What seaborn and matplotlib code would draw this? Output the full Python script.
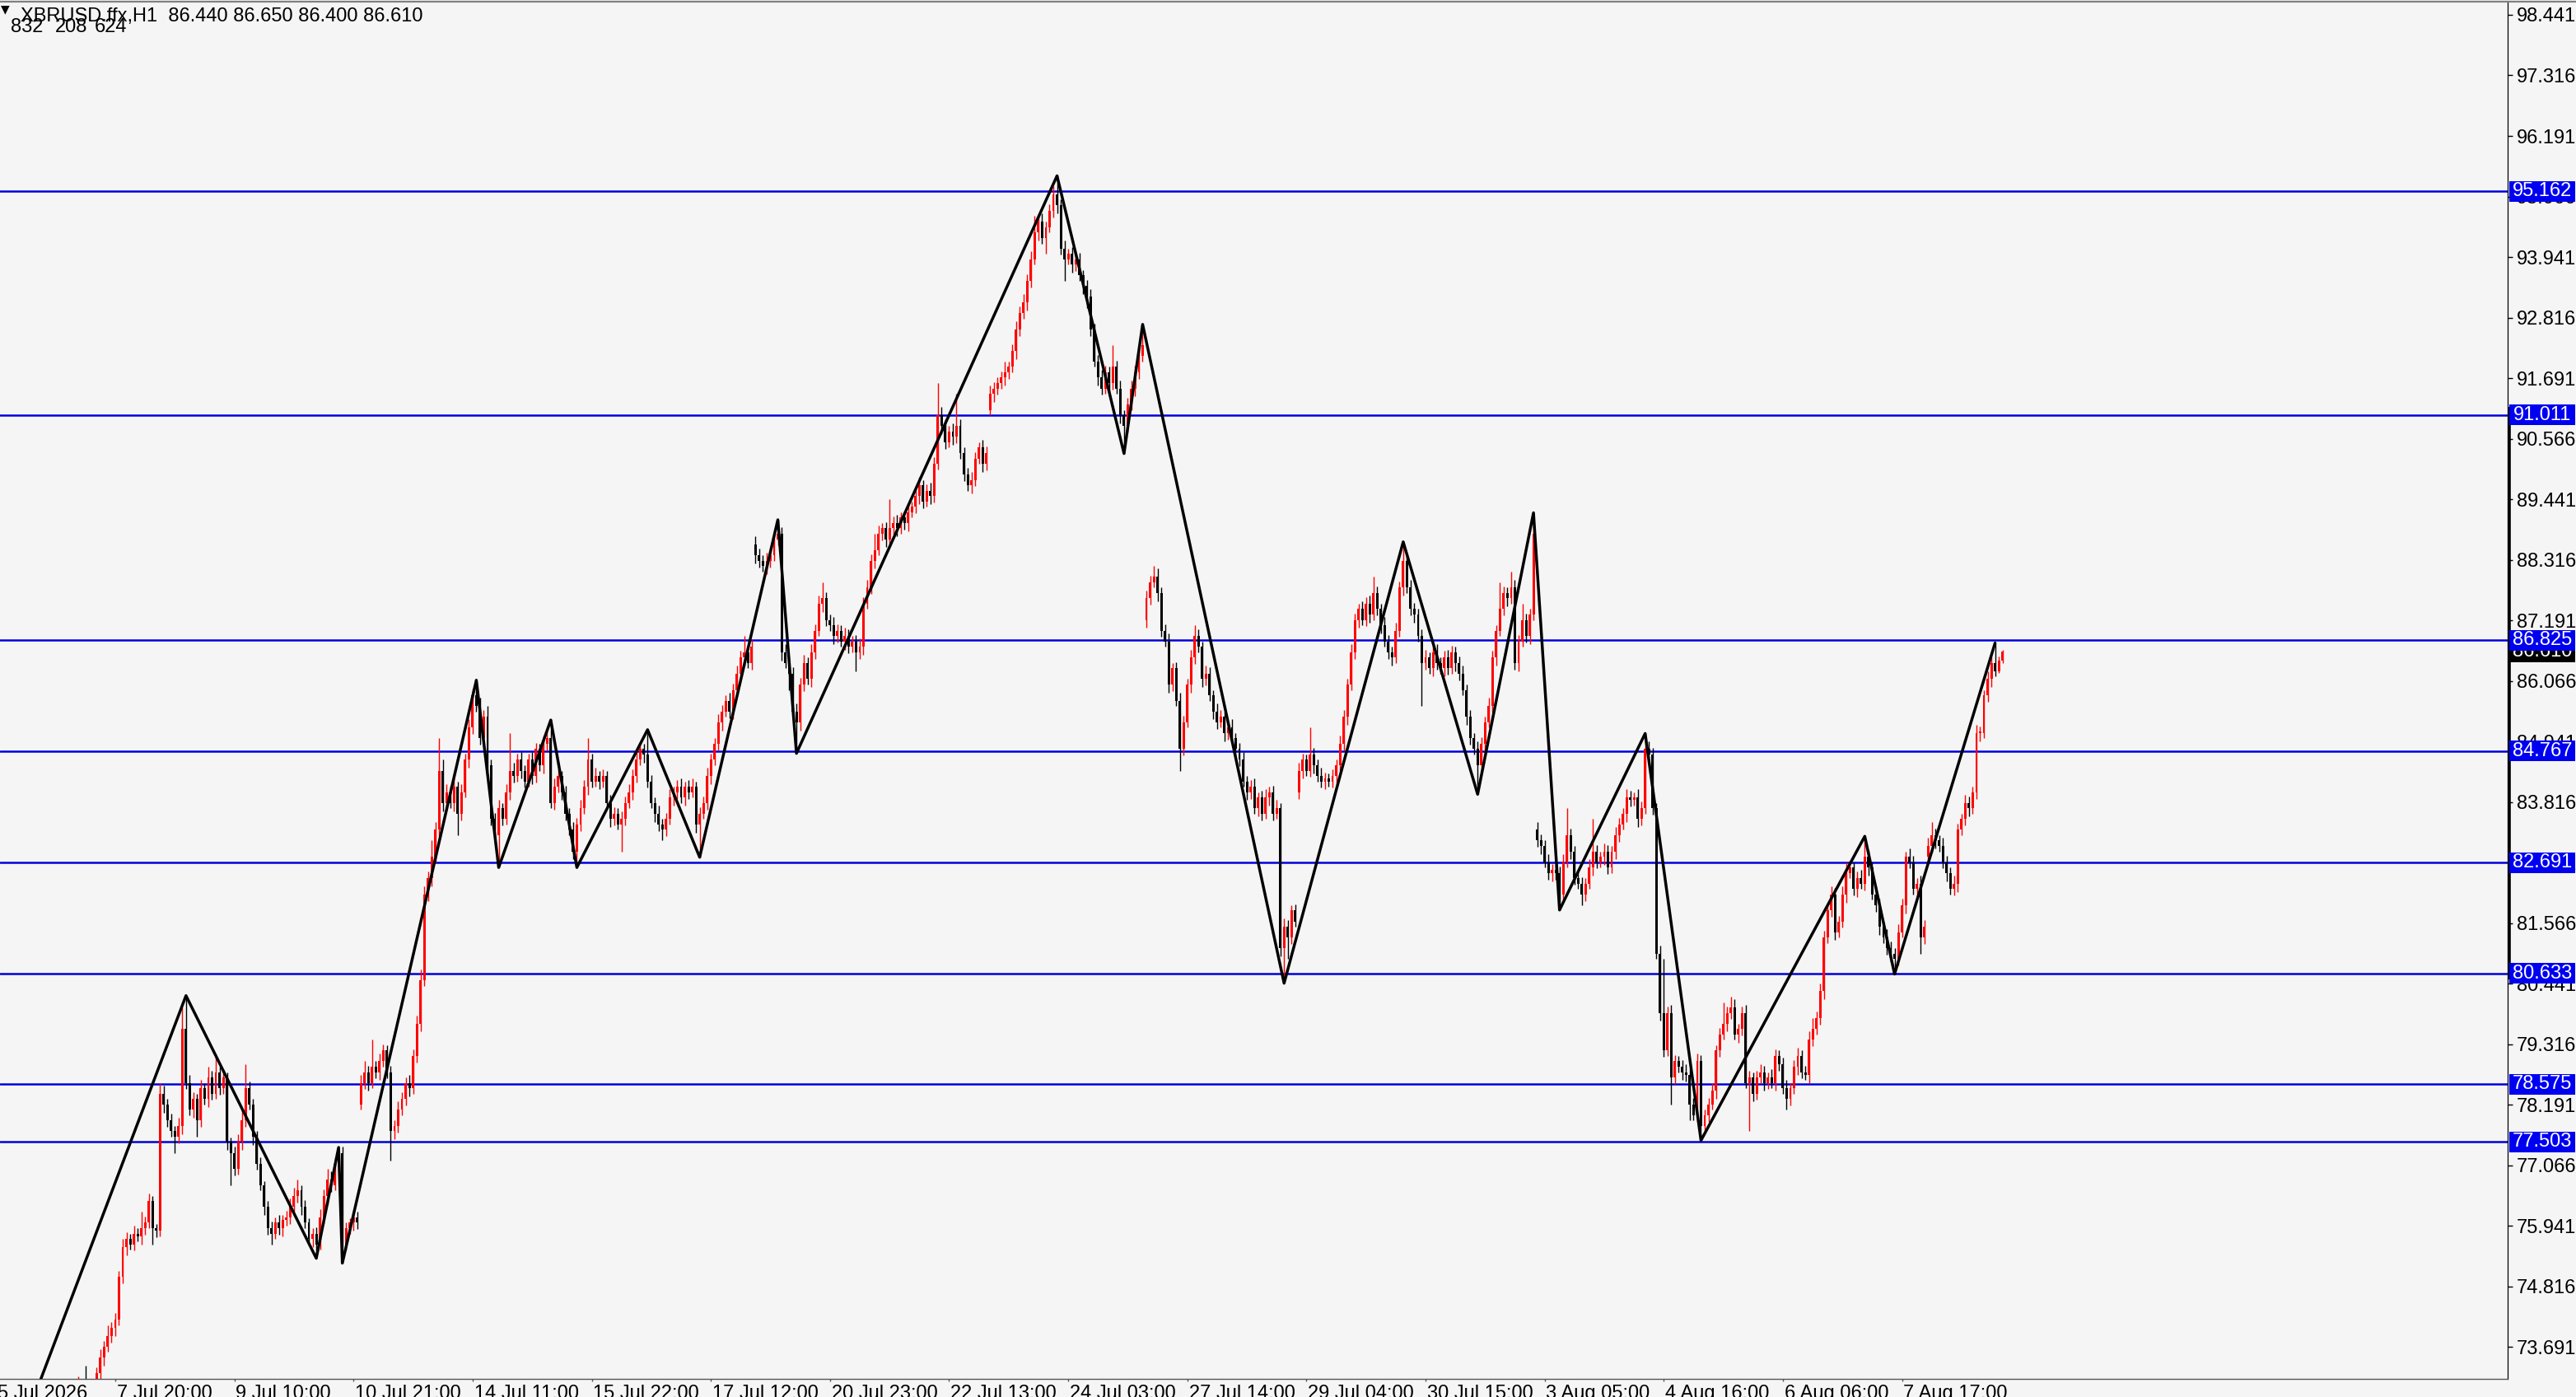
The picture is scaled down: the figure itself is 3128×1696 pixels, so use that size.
import pandas as pd
import seaborn as sns
import matplotlib.pyplot as plt
import matplotlib.transforms as mtransforms
from matplotlib.patches import Rectangle
from matplotlib.lines import Line2D

# ---- data (H1 bars, x = bar number) ----
first_bar = 20
first_open = 72.5

closes = [
    72.6, 72.7, 72.8, 72.9, 72.8, 72.9, 73.0, 73.2, 73.5, 73.7,
    73.9, 74.05, 74.2, 75.0, 75.55, 75.7, 75.6, 75.8, 75.75, 75.9,
    76.0, 76.4, 75.9, 75.85, 78.4, 78.2, 77.9, 77.7, 77.6, 77.8,
    79.6, 78.6, 78.1, 78.3, 77.9, 78.5, 78.3, 78.7, 78.4, 78.8,
    78.5, 78.7, 77.5, 77.3, 77.0, 77.5, 77.9, 78.5, 78.2, 77.6,
    77.1, 76.7, 76.3, 75.9, 75.8, 76.0, 75.9, 76.05, 76.1, 76.3,
    76.5, 76.6, 76.3, 76.0, 75.7, 75.8, 75.6, 76.1, 76.5, 76.8,
    76.7, 77.1, 77.3, 75.6, 75.9, 76.0, 76.1, 76.0, 78.6, 78.8,
    78.6, 78.9, 78.8, 79.0, 79.2, 78.8, 77.7, 77.8, 78.1, 78.3,
    78.6, 78.5, 79.1, 79.7, 80.5, 82.1, 82.4, 82.8, 83.3, 84.4,
    83.8, 84.0, 83.8, 84.1, 83.6, 84.0, 84.6, 85.2, 85.8, 85.6,
    85.0, 85.4, 84.5, 83.5, 83.2, 83.7, 83.5, 84.0, 84.4, 84.3,
    84.6, 84.4, 84.2, 84.6, 84.3, 84.8, 84.5, 84.9, 85.0, 83.8,
    84.1, 84.3, 84.0, 83.6, 83.3, 82.9, 83.4, 83.7, 84.1, 84.6,
    84.2, 84.3, 84.2, 84.3, 83.8, 83.5, 83.6, 83.4, 83.5, 83.8,
    84.0, 84.3, 84.6, 84.8, 84.7, 84.2, 83.8, 83.6, 83.4, 83.3,
    83.5, 83.9, 84.0, 84.1, 83.9, 84.1, 84.0, 84.1, 83.4, 83.6,
    83.8, 84.3, 84.6, 84.9, 85.3, 85.5, 85.7, 85.5, 85.9, 86.2,
    86.5, 86.6, 86.4, 86.7, 88.4, 88.3, 88.2, 88.3, 88.4, 88.7,
    88.8, 86.6, 86.4, 86.2, 85.5, 85.3, 86.0, 86.4, 86.1, 86.6,
    87.0, 87.5, 87.6, 87.2, 87.1, 86.9, 87.0, 86.8, 86.9, 86.7,
    86.8, 86.6, 86.7, 87.5, 87.8, 88.3, 88.5, 88.8, 88.9, 88.7,
    88.9, 89.0, 88.9, 89.1, 89.0, 89.2, 89.3, 89.5, 89.7, 89.4,
    89.6, 89.5, 90.1, 91.0, 90.8, 90.5, 90.7, 90.6, 90.8, 90.3,
    89.9, 89.7, 89.8, 90.2, 90.4, 90.1, 90.3, 91.4, 91.5, 91.6,
    91.7, 91.8, 91.9, 92.2, 92.6, 92.9, 93.1, 93.5, 93.9, 94.4,
    94.6, 94.3, 94.5, 94.8, 95.1, 94.9, 94.1, 93.9, 94.0, 93.8,
    93.9, 93.6, 93.4, 93.2, 92.6, 92.0, 91.7, 91.5, 91.8, 91.6,
    91.9, 91.5, 91.0, 90.8, 91.2, 91.5, 91.8, 92.1, 92.3, 87.6,
    87.9, 88.0, 87.7, 87.0, 86.8, 86.0, 86.3, 85.7, 84.8, 85.3,
    86.0, 86.5, 86.9, 86.7, 86.1, 86.2, 85.8, 85.5, 85.3, 85.4,
    85.1, 85.2, 85.0, 84.8, 84.6, 84.2, 84.0, 84.1, 83.7, 83.9,
    83.6, 83.9, 84.0, 83.6, 83.7, 81.1, 81.5, 81.3, 81.8, 81.6,
    84.4, 84.6, 84.4, 84.7, 84.5, 84.3, 84.2, 84.25, 84.2, 84.3,
    84.5, 84.9, 85.4, 86.0, 86.6, 87.2, 87.4, 87.2, 87.5, 87.3,
    87.7, 87.4, 87.1, 86.8, 86.6, 86.5, 87.0, 87.8, 88.3, 87.8,
    87.4, 87.3, 86.9, 86.4, 86.5, 86.3, 86.6, 86.4, 86.3, 86.5,
    86.3, 86.6, 86.4, 86.2, 85.9, 85.4, 85.0, 84.8, 84.5, 84.9,
    85.3, 85.6, 86.5, 87.0, 87.4, 87.7, 87.6, 87.8, 86.4, 86.8,
    87.2, 86.9, 87.3, 88.8, 83.1, 83.0, 82.7, 82.5, 82.55, 82.5,
    82.1, 82.7, 83.2, 82.9, 82.4, 82.3, 82.1, 82.3, 82.6, 82.9,
    82.7, 82.8, 82.9, 82.6, 82.9, 83.2, 83.4, 83.6, 83.9, 83.85,
    83.9, 83.5, 83.7, 84.8, 84.7, 83.7, 81.0, 79.9, 79.2, 79.9,
    78.7, 79.0, 78.9, 78.8, 78.75, 78.2, 78.0, 79.0, 77.8, 78.0,
    78.2, 78.45, 79.2, 79.5, 79.7, 79.9, 80.0, 79.5, 79.6, 79.9,
    78.6, 78.7, 78.4, 78.7, 78.8, 78.6, 78.7, 78.6, 79.1, 78.95,
    78.5, 78.3, 78.5, 78.9, 79.1, 78.8, 78.75, 79.4, 79.6, 79.8,
    80.3, 81.3, 81.8, 82.1, 81.4, 81.6, 82.1, 82.5, 82.6, 82.2,
    82.4, 82.3, 82.8, 82.6, 82.1, 81.9, 81.5, 81.3, 81.1, 81.0,
    80.9, 81.4, 81.9, 82.8, 82.7, 82.2, 82.3, 81.3, 81.5, 83.0,
    83.2, 83.1, 83.0, 82.7, 82.5, 82.2, 82.3, 83.3, 83.5, 83.8,
    83.7, 84.0, 85.1, 85.1, 85.8, 86.1, 86.4, 86.25, 86.44, 86.61,
]

# upper / lower shadows in cents
wick_up = [
    10, 12, 35, 10, 45, 12, 10, 12, 15, 10,
    20, 10, 12, 10, 15, 12, 10, 15, 10, 30,
    12, 15, 10, 8, 20, 15, 10, 12, 10, 15,
    40, 62, 15, 12, 10, 15, 10, 20, 12, 30,
    10, 15, 10, 8, 12, 15, 20, 45, 12, 10,
    10, 12, 8, 10, 12, 10, 15, 10, 12, 15,
    15, 20, 10, 12, 8, 10, 12, 15, 12, 20,
    15, 12, 10, 12, 10, 8, 12, 10, 15, 20,
    12, 50, 10, 15, 12, 10, 12, 10, 15, 12,
    10, 15, 12, 15, 20, 15, 12, 30, 15, 60,
    20, 15, 12, 15, 10, 15, 12, 15, 12, 28,
    15, 12, 20, 10, 12, 15, 10, 15, 70, 15,
    12, 15, 10, 12, 15, 12, 10, 15, 12, 34,
    15, 12, 10, 12, 10, 15, 12, 15, 12, 40,
    12, 15, 10, 12, 10, 15, 12, 10, 15, 12,
    15, 12, 15, 12, 10, 46, 12, 10, 15, 10,
    12, 15, 10, 12, 15, 10, 12, 15, 10, 12,
    12, 15, 12, 10, 15, 12, 10, 15, 12, 15,
    12, 30, 10, 12, 15, 12, 10, 15, 12, 10,
    26, 12, 15, 10, 12, 15, 12, 15, 10, 15,
    12, 15, 30, 12, 10, 15, 12, 10, 15, 12,
    10, 12, 15, 12, 15, 12, 30, 15, 10, 12,
    55, 12, 15, 10, 12, 15, 10, 12, 15, 10,
    12, 15, 12, 60, 15, 12, 10, 15, 60, 12,
    10, 12, 15, 12, 10, 15, 12, 15, 12, 10,
    12, 20, 10, 12, 15, 12, 15, 12, 15, 30,
    12, 15, 10, 12, 15, 35, 12, 15, 10, 12,
    15, 12, 10, 12, 15, 10, 12, 15, 12, 10,
    40, 12, 15, 10, 12, 15, 12, 10, 39, 15,
    12, 20, 15, 10, 12, 15, 10, 12, 15, 12,
    10, 15, 20, 12, 10, 15, 12, 10, 15, 12,
    10, 12, 15, 10, 12, 15, 10, 12, 15, 10,
    12, 15, 10, 12, 15, 10, 15, 12, 10, 12,
    15, 12, 10, 50, 12, 10, 15, 12, 10, 12,
    10, 15, 12, 10, 15, 12, 10, 15, 12, 15,
    30, 12, 10, 15, 12, 10, 15, 12, 35, 12,
    15, 12, 10, 12, 15, 10, 12, 15, 10, 12,
    15, 12, 10, 12, 15, 10, 12, 10, 15, 12,
    10, 15, 12, 10, 50, 12, 10, 30, 15, 12,
    30, 12, 10, 39, 15, 12, 10, 15, 12, 10,
    12, 15, 50, 12, 10, 15, 12, 10, 15, 60,
    12, 10, 15, 12, 10, 15, 12, 10, 15, 12,
    10, 15, 12, 29, 15, 12, 10, 15, 100, 12,
    15, 12, 10, 12, 15, 10, 12, 15, 12, 10,
    12, 15, 10, 12, 40, 12, 20, 15, 10, 12,
    15, 12, 10, 12, 15, 12, 10, 15, 12, 10,
    12, 15, 10, 12, 15, 10, 12, 15, 20, 12,
    15, 12, 10, 15, 12, 10, 15, 20, 12, 10,
    12, 15, 38, 12, 10, 15, 12, 10, 15, 12,
    10, 15, 12, 10, 15, 12, 10, 15, 12, 15,
    25, 12, 10, 15, 12, 10, 15, 12, 10, 15,
    12, 10, 15, 12, 10, 15, 12, 37, 8, 4,
]

wick_dn = [
    10, 12, 10, 15, 12, 10, 12, 10, 12, 15,
    10, 12, 15, 10, 12, 15, 10, 12, 10, 15,
    12, 10, 30, 12, 10, 15, 12, 10, 30, 12,
    15, 12, 10, 15, 30, 12, 10, 15, 12, 10,
    12, 10, 15, 60, 12, 10, 15, 12, 10, 15,
    12, 10, 15, 12, 20, 10, 12, 15, 10, 12,
    10, 12, 15, 10, 12, 15, 26, 10, 12, 15,
    12, 10, 15, 35, 12, 10, 15, 12, 10, 12,
    15, 10, 12, 15, 10, 12, 55, 15, 12, 10,
    12, 15, 10, 12, 15, 10, 12, 15, 10, 12,
    15, 12, 10, 15, 40, 12, 10, 15, 12, 10,
    12, 15, 10, 12, 15, 60, 12, 10, 15, 12,
    10, 15, 12, 10, 15, 12, 10, 15, 12, 10,
    12, 10, 15, 12, 10, 15, 30, 12, 10, 15,
    12, 10, 15, 12, 10, 15, 12, 10, 50, 12,
    10, 15, 12, 10, 15, 12, 10, 15, 12, 20,
    12, 10, 15, 12, 10, 15, 12, 10, 15, 61,
    10, 12, 15, 10, 12, 15, 10, 12, 15, 10,
    12, 15, 10, 12, 15, 12, 10, 15, 12, 10,
    12, 15, 10, 30, 12, 58, 15, 12, 10, 15,
    12, 10, 15, 12, 10, 15, 12, 10, 15, 12,
    10, 36, 12, 15, 10, 12, 15, 10, 12, 15,
    10, 12, 15, 10, 12, 15, 10, 12, 15, 12,
    10, 15, 12, 10, 15, 12, 10, 15, 12, 10,
    12, 10, 15, 12, 10, 15, 12, 10, 15, 12,
    10, 15, 12, 10, 15, 12, 10, 15, 12, 10,
    15, 12, 30, 10, 12, 15, 12, 40, 10, 15,
    12, 10, 15, 20, 12, 10, 15, 12, 10, 15,
    12, 10, 15, 51, 12, 10, 15, 12, 10, 15,
    12, 10, 15, 12, 10, 15, 12, 10, 40, 12,
    10, 15, 12, 10, 15, 12, 10, 15, 12, 10,
    15, 12, 10, 15, 12, 10, 15, 12, 10, 15,
    12, 10, 15, 12, 10, 15, 65, 40, 12, 10,
    12, 15, 10, 12, 15, 10, 12, 15, 10, 12,
    15, 10, 12, 15, 10, 12, 15, 10, 12, 15,
    10, 12, 15, 10, 12, 15, 10, 12, 15, 10,
    12, 15, 10, 80, 12, 10, 15, 12, 10, 15,
    12, 10, 15, 12, 10, 15, 12, 10, 54, 12,
    15, 10, 12, 15, 10, 12, 15, 10, 12, 15,
    10, 12, 15, 10, 12, 15, 10, 12, 15, 12,
    29, 12, 10, 15, 12, 10, 20, 12, 10, 15,
    12, 10, 15, 12, 10, 15, 12, 10, 15, 12,
    10, 15, 12, 10, 15, 12, 10, 15, 12, 10,
    50, 12, 10, 15, 12, 30, 10, 12, 27, 10,
    12, 10, 15, 12, 10, 15, 12, 10, 15, 12,
    10, 90, 15, 12, 10, 15, 12, 10, 15, 12,
    10, 20, 12, 10, 15, 12, 10, 15, 12, 10,
    12, 15, 10, 12, 15, 10, 12, 15, 10, 12,
    15, 10, 12, 15, 10, 12, 15, 10, 12, 15,
    28, 12, 10, 15, 12, 10, 15, 30, 12, 10,
    12, 15, 10, 12, 15, 10, 12, 15, 10, 12,
    15, 10, 12, 15, 10, 12, 15, 10, 4, 4,
]

# session / weekend gaps: bar -> opening price
gap_opens = {98: 78.2, 204: 88.6, 267: 91.1, 309: 87.2, 350: 84.0, 414: 83.3, 519: 82.8}

# zigzag swing points
zz_bars = [6, 51, 86, 92, 93, 129, 135, 149, 156, 175, 189, 210, 215,
           285, 303, 308, 346, 378, 398, 413, 420, 443, 458, 502, 510, 537]
zz_prices = [72.0, 80.22, 75.34, 77.40, 75.25, 86.08, 82.60, 85.34, 82.60,
             85.16, 82.79, 89.06, 84.72, 95.45, 90.29, 92.69, 80.45, 88.65,
             83.96, 89.19, 81.81, 85.09, 77.53, 83.18, 80.62, 86.77]

levels = [95.162, 91.011, 86.825, 84.767, 82.691, 80.633, 78.575, 77.503]
last_price = 86.610

price_ticks = [98.441, 97.316, 96.191, 95.066, 93.941, 92.816, 91.691, 90.566,
               89.441, 88.316, 87.191, 86.066, 84.941, 83.816, 82.691, 81.566,
               80.441, 79.316, 78.191, 77.066, 75.941, 74.816, 73.691]

time_labels = ["5 Jul 2026", "7 Jul 20:00", "9 Jul 10:00", "10 Jul 21:00",
               "14 Jul 11:00", "15 Jul 22:00", "17 Jul 12:00", "20 Jul 23:00",
               "22 Jul 13:00", "24 Jul 03:00", "27 Jul 14:00", "29 Jul 04:00",
               "30 Jul 15:00", "3 Aug 05:00", "4 Aug 16:00", "6 Aug 06:00",
               "7 Aug 17:00"]
label_step = 32

header = "XBRUSD.ffx,H1  86.440 86.650 86.400 86.610"
header2 = ["832", "208", "624"]

# ---- build candles ----
rows = []
prev_close = first_open
for i, c in enumerate(closes):
    bar = first_bar + i
    o = gap_opens.get(bar, prev_close)
    h = max(o, c) + wick_up[i] / 100
    l = min(o, c) - wick_dn[i] / 100
    rows.append({"bar": bar, "open": o, "high": h, "low": l, "close": c})
    prev_close = c
df = pd.DataFrame(rows)
df["up"] = df["close"] >= df["open"]

# ---- style ----
bg = "#f5f5f5"
sns.set_theme(style="white", rc={"axes.facecolor": bg, "figure.facecolor": bg})
plt.rcParams["font.family"] = ["Liberation Sans Narrow", "Liberation Sans", "DejaVu Sans"]
fs = 8.5

W, H = 3128, 1696
fig = plt.figure(figsize=(W / 200, H / 200), dpi=200)
ax_w = 3045
ax = fig.add_axes([0, 22 / H, ax_w / W, 1671 / H])
ax.set_facecolor(bg)

# level lines
for lv in levels:
    ax.axhline(lv, color="#0000dc", lw=0.9, zorder=1)

# candles
for up, grp in df.groupby("up"):
    col = "#ff0000" if up else "#000000"
    ax.vlines(grp["bar"], grp["low"], grp["high"], color=col, lw=0.5, zorder=2)
    body = (grp["close"] - grp["open"]).abs().clip(lower=0.025)
    bottom = grp[["open", "close"]].min(axis=1)
    ax.bar(grp["bar"], body, bottom=bottom, width=0.65, color=col,
           linewidth=0, zorder=3)

# zigzag
zz = pd.DataFrame({"bar": zz_bars, "price": zz_prices})
sns.lineplot(data=zz, x="bar", y="price", sort=False, estimator=None,
             color="black", lw=1.25, ax=ax, zorder=4)

ax.set_xlim(4.67 / 4.52, (ax_w + 4.67) / 4.52)
ax.set_ylim(73.10, 98.67)
ax.set_xlabel("")
ax.set_ylabel("")

# right price scale
ax.yaxis.tick_right()
ax.set_yticks(price_ticks)
ax.set_yticklabels([f"{v:.3f}" for v in price_ticks])
ax.tick_params(axis="y", direction="out", length=2, width=0.5, pad=2,
               labelsize=fs, colors="black", right=True, left=False)

# time scale
tick_bars = [label_step * k for k in range(len(time_labels))]
ax.set_xticks(tick_bars[1:])
ax.set_xticklabels([])
ax.tick_params(axis="x", direction="out", length=1.2, width=0.5,
               colors="#555555", bottom=True)
tx = mtransforms.blended_transform_factory(ax.transData, ax.transAxes)
for b, lab in zip(tick_bars, time_labels):
    ax.text(b + 0.4, -0.004, lab, transform=tx, ha="left", va="top",
            fontsize=fs, color="black", clip_on=False)

for side in ["left", "top"]:
    ax.spines[side].set_visible(False)
ax.spines["right"].set_color("black")
ax.spines["right"].set_linewidth(0.45)
ax.spines["bottom"].set_color("#555555")
ax.spines["bottom"].set_linewidth(0.5)

# price labels on the scale
ty = mtransforms.blended_transform_factory(ax.transAxes, ax.transData)
box_h = 25 / 65.35
box_x0 = 1 + 2 / ax_w
box_w = 80 / ax_w
box_xc = box_x0 + box_w / 2
ax.add_patch(Rectangle((box_x0, last_price - box_h / 2), box_w, box_h,
                       transform=ty, facecolor="black", edgecolor="none",
                       clip_on=False, zorder=6))
ax.text(box_xc, last_price, f"{last_price:.3f}", transform=ty, ha="center",
        va="center", fontsize=fs, color="white", clip_on=False, zorder=7)
for lv in levels:
    ax.add_patch(Rectangle((box_x0, lv - box_h / 2), box_w, box_h,
                           transform=ty, facecolor="#0000f0", edgecolor="none",
                           clip_on=False, zorder=8))
    ax.text(box_xc, lv, f"{lv:.3f}", transform=ty, ha="center", va="center",
            fontsize=fs, color="white", clip_on=False, zorder=9)

# thick range marker on the scale
ax.plot([1 + 1.8 / ax_w] * 2, [80.52, 91.16], transform=ty, color="black",
        lw=1.3, solid_capstyle="butt", clip_on=False, zorder=5)

# top border of the window
fig.add_artist(Line2D([0, 1], [1 - 1.5 / H] * 2, transform=fig.transFigure,
                      color="#808080", lw=0.8))

# header
fig.text(1 / W, 1 - 11 / H, "\u25bc", fontsize=5, color="black",
         ha="left", va="center", family="DejaVu Sans")
fig.text(25 / W, 1 - 20 / H, header, fontsize=fs, color="black",
         ha="left", va="center")
for xpx, s in zip([13, 67, 115], header2):
    fig.text(xpx / W, 1 - 33 / H, s, fontsize=fs, color="black",
             ha="left", va="center")

fig.savefig("out.png", dpi=200, facecolor=bg)
